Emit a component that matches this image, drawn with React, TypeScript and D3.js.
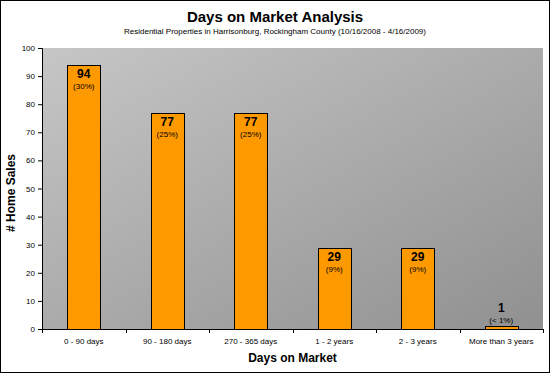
import { useEffect, useRef } from "react";
import * as d3 from "d3";

const CATEGORIES = ["0 - 90 days", "90 - 180 days", "270 - 365 days", "1 - 2 years", "2 - 3 years", "More than 3 years"];
const SALES = [94, 77, 77, 29, 29, 1];
const PERCENTS = ["(30%)", "(25%)", "(25%)", "(9%)", "(9%)", "(< 1%)"];
const Y_TICKS = [0, 10, 20, 30, 40, 50, 60, 70, 80, 90, 100];

const W = 550;
const H = 373;
const FONT = "'Liberation Sans', Arial, sans-serif";

export default function App() {
  const svgRef = useRef<SVGSVGElement>(null);

  useEffect(() => {
    if (!svgRef.current) return;
    const svg = d3.select(svgRef.current);
    svg.selectAll("*").remove();

    const margin = { top: 48, right: 7, bottom: 44, left: 42 };
    const innerW = W - margin.left - margin.right;
    const innerH = H - margin.top - margin.bottom;

    svg.append("rect").attr("x", 0.5).attr("y", 0.5).attr("width", W - 1).attr("height", H - 1)
      .attr("fill", "#fff").attr("stroke", "#000");

    const defs = svg.append("defs");
    const grad = defs.append("linearGradient").attr("id", "bg")
      .attr("x1", "0%").attr("y1", "0%").attr("x2", "100%").attr("y2", "100%");
    grad.append("stop").attr("offset", "0%").attr("stop-color", "#c6c6c6");
    grad.append("stop").attr("offset", "100%").attr("stop-color", "#909090");

    svg.append("text").attr("x", W / 2).attr("y", 22).attr("text-anchor", "middle")
      .attr("font-family", FONT).attr("font-weight", "bold").attr("font-size", 15)
      .text("Days on Market Analysis");
    svg.append("text").attr("x", W / 2).attr("y", 34).attr("text-anchor", "middle")
      .attr("font-family", FONT).attr("font-size", 8)
      .text("Residential Properties in Harrisonburg, Rockingham County (10/16/2008 - 4/16/2009)");

    const g = svg.append("g").attr("transform", `translate(${margin.left},${margin.top})`);

    const x = d3.scaleBand().domain(CATEGORIES).range([0, innerW]).paddingInner(0.6).paddingOuter(0.3);
    const xb = d3.scaleBand().domain(CATEGORIES).range([0, innerW]);
    const y = d3.scaleLinear().domain([0, 100]).range([innerH, 0]);

    g.append("rect").attr("width", innerW).attr("height", innerH).attr("fill", "url(#bg)");

    const data = CATEGORIES.map((c, i) => ({ c, v: SALES[i], p: PERCENTS[i] }));

    g.selectAll("rect.bar").data(data).enter().append("rect").attr("class", "bar")
      .attr("x", (d) => Math.round(x(d.c) ?? 0) + 0.5)
      .attr("y", (d) => Math.round(y(d.v)) + 0.5)
      .attr("width", Math.round(x.bandwidth()))
      .attr("height", (d) => Math.round(innerH - y(d.v)))
      .attr("fill", "#ff9900").attr("stroke", "#000").attr("stroke-width", 1);

    const labels = g.selectAll("g.lab").data(data).enter().append("g").attr("class", "lab")
      .attr("transform", (d) => {
        const cx = (x(d.c) ?? 0) + x.bandwidth() / 2;
        const top = y(d.v);
        const inside = innerH - top > 30;
        return `translate(${cx},${inside ? top + 13 : top - 14})`;
      });
    labels.append("text").attr("text-anchor", "middle").attr("font-family", FONT)
      .attr("font-weight", "bold").attr("font-size", 12).text((d) => d.v);
    labels.append("text").attr("y", 11).attr("text-anchor", "middle").attr("font-family", FONT)
      .attr("font-size", 8).text((d) => d.p);

    // Y axis
    const ya = g.append("g").call(d3.axisLeft(y).tickValues(Y_TICKS).tickSize(4).tickPadding(3));
    ya.select(".domain").attr("stroke", "#000");
    ya.selectAll("text").attr("font-family", FONT).attr("font-size", 8).attr("fill", "#000");

    // X axis with ticks at band boundaries
    const xa = g.append("g").attr("transform", `translate(0,${innerH})`);
    xa.append("line").attr("x1", 0).attr("x2", innerW).attr("y1", 0.5).attr("y2", 0.5).attr("stroke", "#000");
    const bounds = [...CATEGORIES.map((c) => xb(c) ?? 0), innerW];
    xa.selectAll("line.tk").data(bounds).enter().append("line").attr("class", "tk")
      .attr("x1", (d) => Math.round(d) + 0.5).attr("x2", (d) => Math.round(d) + 0.5)
      .attr("y1", 0).attr("y2", 4).attr("stroke", "#000");
    xa.selectAll("text").data(CATEGORIES).enter().append("text")
      .attr("x", (d) => (xb(d) ?? 0) + xb.bandwidth() / 2).attr("y", 15)
      .attr("text-anchor", "middle").attr("font-family", FONT).attr("font-size", 8).text((d) => d);

    svg.append("text").attr("x", margin.left + innerW / 2).attr("y", 362).attr("text-anchor", "middle")
      .attr("font-family", FONT).attr("font-weight", "bold").attr("font-size", 12).text("Days on Market");
    svg.append("text").attr("transform", `translate(15,193) rotate(-90)`)
      .attr("text-anchor", "middle").attr("font-family", FONT).attr("font-weight", "bold")
      .attr("font-size", 12).text("# Home Sales");
  }, []);

  return <svg ref={svgRef} width={W} height={H} style={{ display: "block", position: "absolute", left: 0, top: 0 }} />;
}
